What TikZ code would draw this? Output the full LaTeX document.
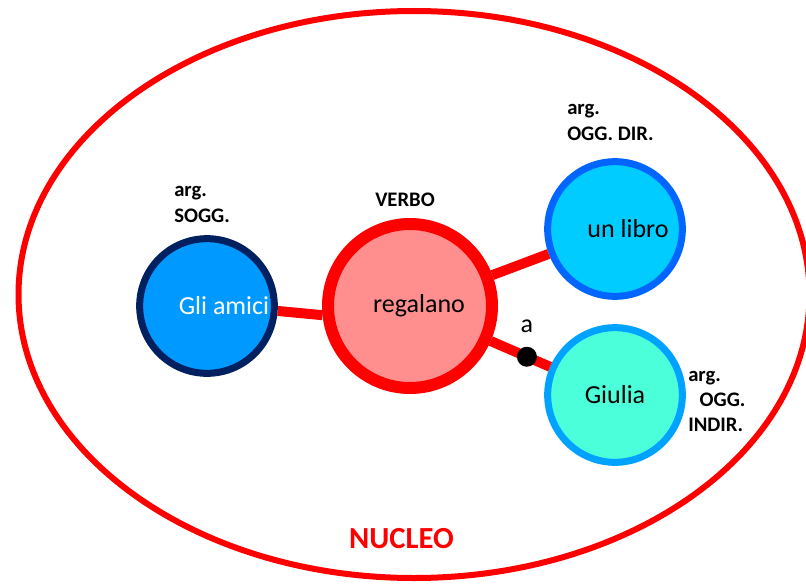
\documentclass[tikz,border=0pt]{standalone}
\usepackage{fontspec}
\setmainfont{Carlito}
\usetikzlibrary{positioning}
\definecolor{navy}{HTML}{002060}
\definecolor{amicifill}{HTML}{0099FF}
\definecolor{verbofill}{HTML}{FF8F8F}
\definecolor{librofill}{HTML}{00CCFF}
\definecolor{libroline}{HTML}{0066FF}
\definecolor{giuliafill}{HTML}{4BFFDB}
\definecolor{giulialine}{HTML}{00A2FF}
\tikzset{
  arg/.style={circle,inner sep=0pt,line width=5.25pt,minimum size=101pt,font=\fontsize{19.5}{23}\selectfont},
  role/.style={inner sep=0pt,align=left,font=\bfseries\fontsize{15.5}{19}\selectfont},
  link/.style={red,line width=7.5pt},
}

\begin{document}
\begin{tikzpicture}[x=0.75pt,y=-0.75pt]
  \clip (0,0) rectangle (806,585);
  \draw[red,line width=4.5pt] (414,294.5) ellipse [x radius=395.5,y radius=283.5];
  \node[red,font=\bfseries\fontsize{23}{28}\selectfont] (nucleo) at (401.5,539) {NUCLEO};
  \node[arg,draw=navy,fill=amicifill,text=white] (amici) at (207,306) {\hspace*{25.5pt}Gli amici};
  \node[arg,draw=red,fill=verbofill,line width=9pt,minimum size=123pt] (verbo) at (410,306) {\hspace*{13.5pt}regalano};
  \node[arg,draw=libroline,fill=librofill] (libro) at (615,229) {\hspace*{19.5pt}un libro};
  \node[arg,draw=giulialine,fill=giuliafill] (giulia) at (615,395) {Giulia};
  \draw[link] (amici.-4) -- (verbo.186);
  \draw[link] (verbo) -- (libro);
  \draw[link] (verbo) -- (giulia) coordinate[pos=0.61] (prep);
  \node[circle,fill=black,inner sep=0pt,minimum size=15pt] (dot) at (prep) {};
  \node[inner sep=0pt,font=\fontsize{19.5}{23}\selectfont,above=10pt of dot] (a) {a};
  % etichette
  \node[role,anchor=west] (sogg) at (174,204.5) {arg.\\SOGG.};
  \node[role] (verbolab) at (405,200) {VERBO};
  \node[role,anchor=west] (oggdir) at (567,122.5) {arg.\\OGG. DIR.};
  \node[role,anchor=west] (oggindir) at (688,401.5) {arg.\\\hspace*{0.55em}OGG.\\INDIR.};
\end{tikzpicture}
\end{document}
